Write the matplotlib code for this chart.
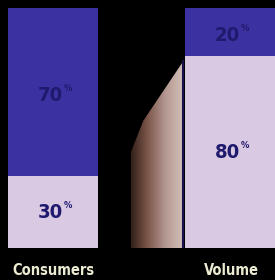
import numpy as np
import matplotlib
matplotlib.use("Agg")
import matplotlib.pyplot as plt
from matplotlib.patches import Polygon
from matplotlib.colors import LinearSegmentedColormap
from matplotlib import font_manager

categories = ["Consumers", "Volume"]
lower_values = [30, 80]   # light segment (bottom)
upper_values = [70, 20]   # dark segment (top)

dark_col = "#3c31a0"
light_col = "#d9c9e3"
txt_col = "#1f1a6e"
lab_col = "#ecebd2"

names = {f.name for f in font_manager.fontManager.ttflist}
cond = [n for n in ["Liberation Sans Narrow", "DejaVu Sans Condensed"] if n in names]
fam = cond + ["DejaVu Sans"]

fig = plt.figure(figsize=(2.75, 2.8), dpi=100)
fig.patch.set_facecolor("black")
ax = fig.add_axes([0, 32/280, 1, 240/280])
ax.set_facecolor("black")
ax.set_xlim(-53/177, (275-53)/177)
ax.set_ylim(0, 100)
ax.axis("off")

x = np.arange(len(categories))
w = 0.51

# decorative shaded wedge between bars
poly = Polygon([(0.733, 77.5), (0.51, 53), (0.44, 40), (0.44, -1), (0.733, -1)], closed=True,
               transform=ax.transData, facecolor="none", edgecolor="none")
ax.add_patch(poly)
cmap = LinearSegmentedColormap.from_list("wedge", ["#2a1a14", "#7a5448", "#b39690", "#d2c0b6"])
grad = np.linspace(0, 1, 256).reshape(1, -1)
im = ax.imshow(grad, extent=[0.43, 0.735, -1, 78], aspect="auto", cmap=cmap, zorder=1)
im.set_clip_path(poly)
ax.plot([0.735, 0.735], [-1, 78], color="#1a1050", lw=1.5, zorder=2)

ax.bar(x, lower_values, width=w, color=light_col, zorder=3)
ax.bar(x, upper_values, width=w, bottom=lower_values, color=dark_col, zorder=3)


def pct(xc, yc, v):
    ax.text(xc, yc, f"{v}", ha="right", va="center", fontsize=14.5, fontweight="bold",
            fontstretch="condensed", color=txt_col, family=fam, zorder=5)
    ax.text(xc + 0.005, yc + 2.8, "%", ha="left", va="center", fontsize=6, fontweight="bold",
            color=txt_col, family=fam, zorder=5)

for i in range(len(categories)):
    pct(x[i] + 0.057, lower_values[i] / 2, lower_values[i])
    pct(x[i] + 0.057, lower_values[i] + upper_values[i] / 2 - 1.5, upper_values[i])

for i, c in enumerate(categories):
    ax.text(x[i] + (0 if i == 0 else 0.01), -9.5, c, ha="center", va="center",
            fontsize=12.5 if cond else 10.5, fontweight="bold", fontstretch="condensed",
            color=lab_col, family=fam, clip_on=False)

fig.savefig("out.png", dpi=100, facecolor="black")
